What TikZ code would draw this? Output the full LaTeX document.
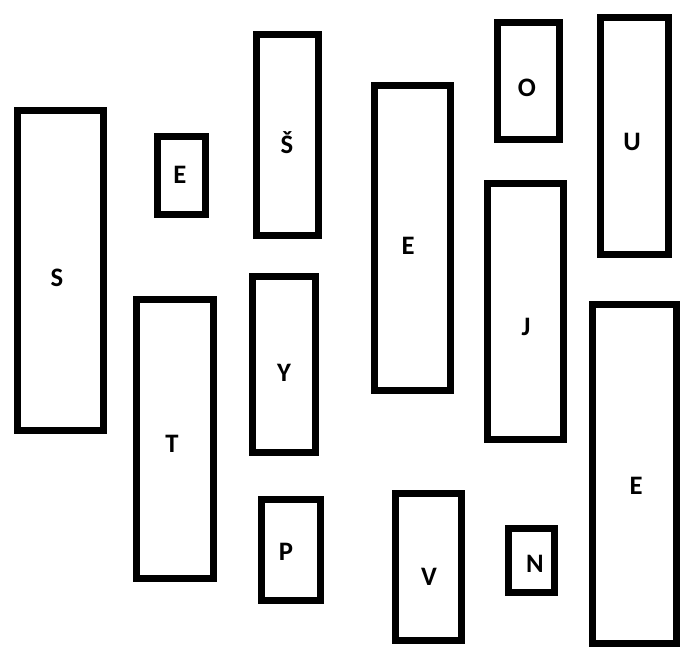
\documentclass[tikz,border=0pt]{standalone}
\usepackage{fontspec}
\setmainfont{Carlito}

\begin{document}
\begin{tikzpicture}[x=0.75pt,y=-0.75pt,box/.style={draw=black,line width=5.25pt},letter/.style={font=\bfseries\fontsize{20pt}{20pt}\selectfont,inner sep=0pt}]
  \useasboundingbox (0,0) rectangle (681,648);
  % left column
  \draw[box] (17.5,110.5) rectangle (103.5,430.5);
  \node[letter] (s) at (57,278) {S};
  \draw[box] (157.5,136.5) rectangle (205.5,214.5);
  \node[letter] (e1) at (180,175) {E};
  \draw[box] (136.5,299.5) rectangle (213.5,578.5);
  \node[letter] (t) at (172,444) {T};
  % middle
  \draw[box] (256.5,34.5) rectangle (318.5,235.5);
  \node[letter] (sh) at (287,143) {Š};
  \draw[box] (252.5,276.5) rectangle (315.5,452.5);
  \node[letter] (y) at (284,373) {Y};
  \draw[box] (261.5,499.5) rectangle (320.5,600.5);
  \node[letter] (p) at (286,552) {P};
  \draw[box] (374.5,85.5) rectangle (450.5,390.5);
  \node[letter] (e2) at (408,246) {E};
  \draw[box] (395.5,493.5) rectangle (461.5,640.5);
  \node[letter] (v) at (429,577) {V};
  % right
  \draw[box] (497.5,22.5) rectangle (559.5,139.5);
  \node[letter] (o) at (527,88) {O};
  \draw[box] (487.5,183.5) rectangle (563.5,439.5);
  \node[letter] (j) at (526,327) {J};
  \draw[box] (508.5,528.5) rectangle (554.5,592.5);
  \node[letter] (n) at (535,564) {N};
  \draw[box] (600.5,17.5) rectangle (668.5,254.5);
  \node[letter] (u) at (632,142) {U};
  \draw[box] (592.5,304.5) rectangle (676.5,643.5);
  \node[letter] (e3) at (636,486) {E};
\end{tikzpicture}
\end{document}
